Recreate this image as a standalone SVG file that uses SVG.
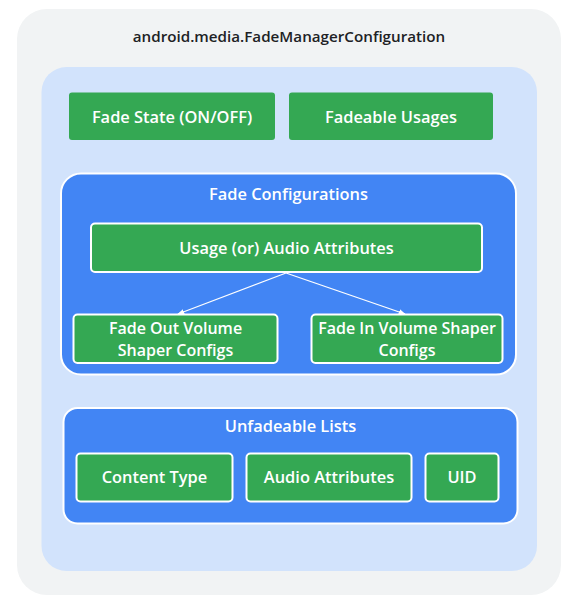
<svg xmlns="http://www.w3.org/2000/svg" width="578" height="605" viewBox="0 0 578 605">
<style>
.t{font-family:"Open Sans",Roboto,"Liberation Sans",sans-serif;font-weight:600;text-anchor:middle;dominant-baseline:central}
.w{fill:#ffffff;font-size:16.4px}
.w2{fill:#ffffff;font-size:16px}
.g{fill:#34a853;stroke:#ffffff;stroke-width:2}
.g0{fill:#34a853}
.b{fill:#4285f4;stroke:#ffffff;stroke-width:2}
.c{stroke:#ffffff;stroke-width:1.3;fill:none}
</style>
<defs>
<marker id="ah" viewBox="0 0 10 10" refX="9" refY="5" markerWidth="7" markerHeight="7" orient="auto" markerUnits="userSpaceOnUse">
<path d="M0,1 L10,5 L0,9 Z" fill="#ffffff"/>
</marker>
</defs>
<rect width="578" height="605" fill="#ffffff"/>
<g id="outer">
<rect x="17" y="9" width="544" height="586" rx="30" fill="#f1f3f4"/>
<text class="t" x="289" y="35.5" font-size="15.2" fill="#202124">android.media.FadeManagerConfiguration</text>
</g>
<g id="inner">
<rect x="41.5" y="67" width="495.5" height="504" rx="25" fill="#d2e3fc"/>
</g>
<g id="fade-state">
<rect class="g0" x="69" y="92.5" width="206" height="47.5" rx="3"/>
<text class="t w" x="172" y="116">Fade State (ON/OFF)</text>
</g>
<g id="fadeable-usages">
<rect class="g0" x="289" y="92.5" width="204" height="47.5" rx="3"/>
<text class="t w" x="391" y="116">Fadeable Usages</text>
</g>
<g id="fade-configurations">
<rect class="b" x="61" y="173.5" width="455" height="201" rx="20"/>
<text class="t w" x="288.5" y="193">Fade Configurations</text>
</g>
<g id="usage-audio-attributes">
<rect class="g" x="91" y="223.5" width="391" height="48.5" rx="4"/>
<text class="t w" x="286.5" y="247.5">Usage (or) Audio Attributes</text>
</g>
<g id="fade-out">
<rect class="g" x="73.5" y="314.5" width="204" height="48.5" rx="4"/>
<text class="t w2" x="175.5" y="327.5">Fade Out Volume</text>
<text class="t w2" x="175.5" y="349.5">Shaper Configs</text>
</g>
<g id="fade-in">
<rect class="g" x="311.5" y="314.5" width="191" height="48.5" rx="4"/>
<text class="t w2" x="407" y="327.5">Fade In Volume Shaper</text>
<text class="t w2" x="407" y="349.5">Configs</text>
</g>
<g id="unfadeable-lists">
<rect class="b" x="63.5" y="408" width="454" height="115.5" rx="14"/>
<text class="t w" x="290.5" y="425">Unfadeable Lists</text>
</g>
<g id="content-type">
<rect class="g" x="76.5" y="453.5" width="156" height="48" rx="4"/>
<text class="t w" x="154.5" y="476.5">Content Type</text>
</g>
<g id="audio-attributes">
<rect class="g" x="246.5" y="453.5" width="165" height="48" rx="4"/>
<text class="t w" x="329" y="476.5">Audio Attributes</text>
</g>
<g id="uid">
<rect class="g" x="425.5" y="453.5" width="73" height="48" rx="4"/>
<text class="t w" x="462" y="476.5">UID</text>
</g>
<g id="connectors">
<line class="c" x1="286" y1="273" x2="178" y2="314" marker-end="url(#ah)"/>
<line class="c" x1="286" y1="273" x2="405" y2="314" marker-end="url(#ah)"/>
</g>
</svg>
